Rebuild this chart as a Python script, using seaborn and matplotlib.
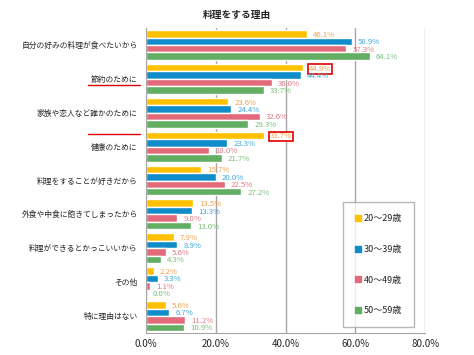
import pandas as pd
import seaborn as sns
import matplotlib.pyplot as plt
from matplotlib.lines import Line2D
from matplotlib.ticker import FuncFormatter

reasons = ['自分の好みの料理が食べたいから', '節約のために', '家族や恋人など誰かのために',
           '健康のために', '料理をすることが好きだから', '外食や中食に飽きてしまったから',
           '料理ができるとかっこいいから', 'その他', '特に理由はない']
ages = ['20～29歳', '30～39歳', '40～49歳', '50～59歳']
age20 = [46.1, 44.9, 23.6, 33.7, 15.7, 13.5, 7.9, 2.2, 5.6]
age30 = [58.9, 44.4, 24.4, 23.3, 20.0, 13.3, 8.9, 3.3, 6.7]
age40 = [57.3, 36.0, 32.6, 18.0, 22.5, 9.0, 5.6, 1.1, 11.2]
age50 = [64.1, 33.7, 29.3, 21.7, 27.2, 13.0, 4.3, 0.0, 10.9]

bar_colors = ['#FFC000', '#0F8CC9', '#E26A7B', '#62AE62']
text_colors = ['#F2A24E', '#3FA7DC', '#E27A88', '#7BBF7B']

rows = []
for age, vals in zip(ages, [age20, age30, age40, age50]):
    for r, v in zip(reasons, vals):
        rows.append({'reason': r, 'age': age, 'value': v})
df = pd.DataFrame(rows)

sns.set_style('white')
plt.rcParams['font.family'] = ['Noto Sans CJK JP', 'DejaVu Sans']

fig = plt.figure(figsize=(4.74, 3.55), dpi=100)
ax = fig.add_axes([0.308, 0.062, 0.589, 0.859])

sns.barplot(data=df, y='reason', x='value', hue='age', orient='h',
            palette=bar_colors, width=0.88, saturation=1, ax=ax, legend=False)

# value labels (two of them boxed in red)
boxed = {(1, 0), (3, 0)}
for hi, cont in enumerate(ax.containers):
    for ci, bar in enumerate(cont):
        v = bar.get_width()
        y = bar.get_y() + bar.get_height() / 2 + 0.03
        kw = {}
        if (ci, hi) in boxed:
            kw['bbox'] = dict(boxstyle='square,pad=0.12', fc='white', ec='#E00000', lw=1.2)
        ax.text(v + 1.8, y, f'{v:.1f}%', color=text_colors[hi], fontsize=5.6,
                va='center', ha='left', **kw)

ax.set_xlim(0, 80)
ax.set_xticks([0, 20, 40, 60, 80])
ax.xaxis.set_major_formatter(FuncFormatter(lambda x, p: f'{x:.1f}%'))
ax.set_xlabel('')
ax.set_ylabel('')
ax.grid(axis='x', color='#A6A6A6', lw=1)
ax.set_axisbelow(True)
for s in ['top', 'right']:
    ax.spines[s].set_visible(False)
for s in ['left', 'bottom']:
    ax.spines[s].set_color('#A6A6A6')
ax.tick_params(axis='x', labelsize=7, length=0, pad=4)
ax.tick_params(axis='y', labelsize=5.6, length=0, pad=6)
ax.set_yticks([i + 0.5 for i in range(-1, len(reasons))], minor=True)
ax.tick_params(axis='y', which='minor', length=3, color='#A6A6A6', direction='out')
ax.set_ylim(len(reasons) - 0.5, -0.5)

fig.text(0.5, 1 - 15 / 355, '料理をする理由', fontsize=7, fontweight='bold',
         ha='center', va='center')

# red underlines
for yy in [85, 134]:
    fig.add_artist(Line2D([88 / 474, 140 / 474], [1 - yy / 355, 1 - yy / 355],
                          color='#E00000', lw=1))

handles = [Line2D([], [], marker='s', ls='', color=c, markersize=4) for c in bar_colors]
leg = fig.legend(handles, ages, loc='lower left', bbox_to_anchor=(0.724, 0.079),
                 borderaxespad=0, fontsize=6.5, frameon=True, fancybox=False,
                 labelspacing=2.4, handlelength=0.6, handletextpad=0.4, borderpad=1.3)
leg.get_frame().set_edgecolor('#A6A6A6')

fig.savefig('out.png', dpi=100)
